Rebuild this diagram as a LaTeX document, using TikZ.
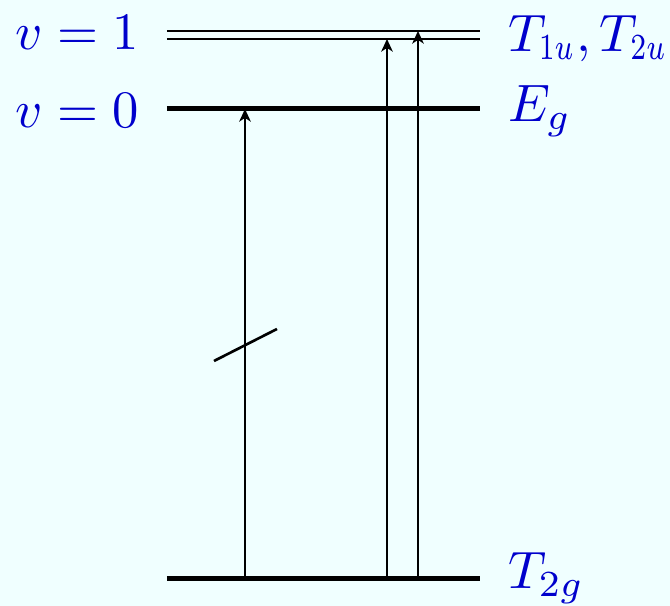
\documentclass[tikz,border=0pt]{standalone}
\usepackage{graphicx}
\usetikzlibrary{arrows.meta}
\definecolor{bgc}{HTML}{F0FFFF}
\definecolor{lbl}{HTML}{0000CC}
\newcommand{\narrowsub}[1]{\scalebox{0.76}[1]{$\scriptstyle #1$}}
\begin{document}
\begin{tikzpicture}[x=0.19pt,y=-0.19pt,
  level/.style={line width=#1},
  trans/.style={line width=0.38pt,-{Stealth[length=2.4pt,width=2.2pt,inset=0.7pt]}},
  lab/.style={inner sep=0pt,text=lbl}]
\fill[bgc] (0,0) rectangle (670,606);
\useasboundingbox (0,0) rectangle (670,606);
% level end points
\coordinate (a1) at (167,31);  \coordinate (b1) at (480,31);
\coordinate (a2) at (167,39);  \coordinate (b2) at (480,39);
\coordinate (a3) at (167,109); \coordinate (b3) at (480,109);
\coordinate (a4) at (167,579); \coordinate (b4) at (480,579);
\draw[level=0.55pt] (a1) -- (b1);
\draw[level=0.55pt] (a2) -- (b2);
\draw[level=0.95pt] (a3) -- (b3);
\draw[level=0.95pt] (a4) -- (b4);
% transitions
\coordinate (s1) at (245,579); \coordinate (e1) at (245,109);
\coordinate (s2) at (387,579); \coordinate (e2) at (387,39);
\coordinate (s3) at (418,579); \coordinate (e3) at (418,31);
\draw[trans] (s1) -- (e1);
\draw[trans] (s2) -- (e2);
\draw[trans] (s3) -- (e3);
% forbidden slash
\coordinate (x1) at (214,361); \coordinate (x2) at (277,329);
\draw[line width=0.5pt] (x1) -- (x2);
% labels
\node[lab,anchor=base east] (v1) at (140,50) {$v=1$};
\node[lab,anchor=base east] (v0) at (140,128) {$v=0$};
\node[lab,anchor=base west] (t1) at (507,52) {$T_{\narrowsub{1u}},T_{\narrowsub{2u}}$};
\node[lab,anchor=base west] (eg) at (507,122) {$E_g$};
\node[lab,anchor=base west] (t2) at (507,589) {$T_{2g}$};
\end{tikzpicture}
\end{document}
